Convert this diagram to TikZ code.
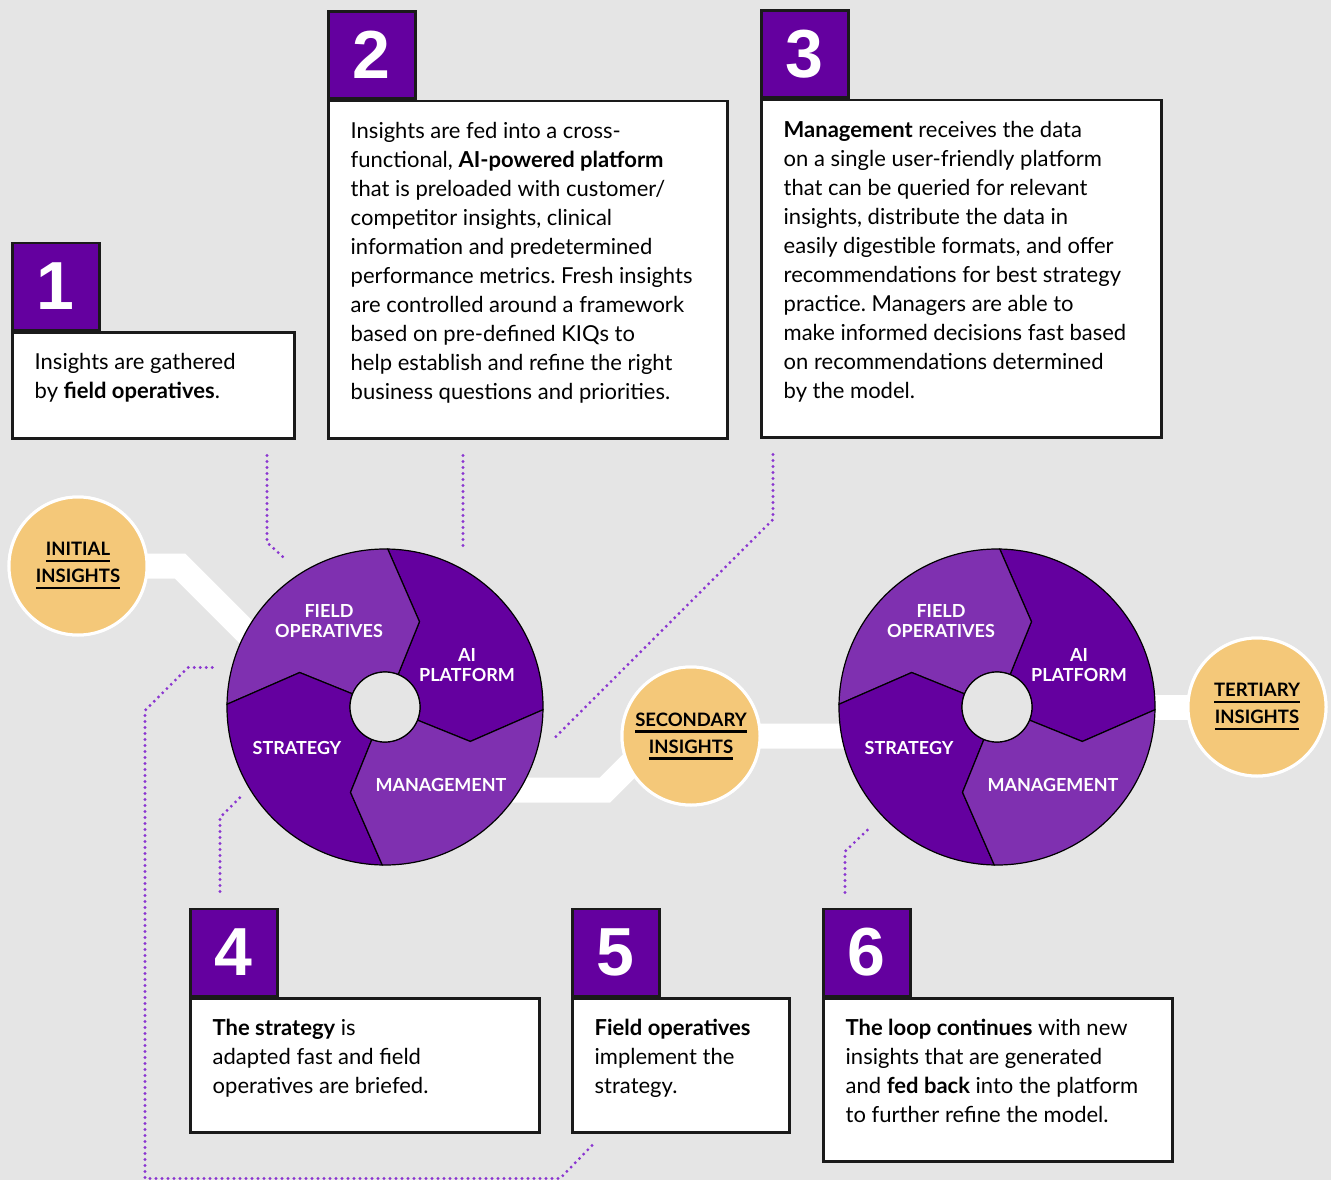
\documentclass[tikz,border=0pt]{standalone}
\usepackage{fontspec}
\setmainfont{Lato}
\newfontfamily\numfont{Liberation Sans}
\usetikzlibrary{calc}
\frenchspacing
\definecolor{bggray}{HTML}{E5E5E5}
\definecolor{darkpurple}{HTML}{64009F}
\definecolor{lightpurple}{HTML}{7F30B0}
\definecolor{gold}{HTML}{F4C879}
\definecolor{dotpurple}{HTML}{8A35D0}
\definecolor{boxline}{HTML}{1A1A1A}
\newcommand\ulword[1]{\setbox0\hbox{#1}\rlap{\rule[-6.5pt]{\wd0}{2.6pt}}\box0}
\tikzset{
  box/.style= {draw=boxline, fill=white, line width=2.5, anchor=north west, inner sep=0},
  tab/.style= {draw=boxline, fill=darkpurple, line width=2.5, anchor=south west,
               minimum width=87, minimum height=87, inner sep=0, text=white,
               font=\numfont\bfseries\fontsize{68}{68}\selectfont},
  txt/.style= {anchor=north west, align=left, inner sep=0, font=\fontsize{22}{29}\selectfont},
  insight/.style= {circle, fill=gold, draw=white, line width=3, minimum size=138,
                   inner sep=0, align=center, font=\bfseries\fontsize{18.5}{27}\selectfont},
  wlabel/.style= {text=white, align=center, inner sep=0, font=\bfseries\fontsize{18}{20}\selectfont},
  band/.style= {draw=white, line width=25, line join=miter},
  dots/.style= {draw=dotpurple, line width=3.2, line cap=round, dash pattern=on 0pt off 6pt},
  wheel/.pic= {
    \begin{scope}[yscale=-1]
      \foreach \s/\c in {-1/darkpurple, 89/lightpurple, 179/darkpurple, 269/lightpurple}
        \filldraw[fill=\c, draw=black, line width=1.2]
          (\s:158) arc[start angle=\s, delta angle=90, radius=158]
          -- (\s+69:92) -- (\s+69:35)
          arc[start angle=\s+69, delta angle=-90, radius=35]
          -- (\s-21:92) -- cycle;
      \filldraw[fill=bggray, draw=black, line width=1.2] (0,0) circle[radius=35];
    \end{scope}
    \node[wlabel] (-fo) at (-56,-86) {FIELD\\OPERATIVES};
    \node[wlabel] (-ai) at (82,-42) {AI\\PLATFORM};
    \node[wlabel] (-st) at (-88,41) {STRATEGY};
    \node[wlabel] (-mg) at (56,78) {MANAGEMENT};
  },
}

\begin{document}
\begin{tikzpicture}[x=1pt, y=-1pt]
  \fill[bggray] (0,0) rectangle (1331,1180);
  \useasboundingbox (0,0) rectangle (1331,1180);

  \coordinate (hub1) at (385,707);
  \coordinate (hub2) at (997,707);
  \node[insight] (ini) at (78,566) {\ulword{INITIAL}\\\ulword{INSIGHTS}};
  \node[insight] (sec) at (691,736) {\ulword{SECONDARY}\\\ulword{INSIGHTS}};
  \node[insight] (ter) at (1257,707) {\ulword{TERTIARY}\\\ulword{INSIGHTS}};

  % white tracks behind the wheels
  \draw[band] (ini.center) -- (180,566) -- (270,656) -- (hub1);
  \draw[band] (hub1) -- (400,790) -- (605,790) -- (650,745) -- (sec.center);
  \draw[band] (sec.center) -- (900,736) -- (hub2);
  \draw[band] (hub2) -- (ter.center);

  % boxes
  \node[box, minimum width=282, minimum height=106] (b1) at (11,331) {};
  \node[box, minimum width=399, minimum height=337] (b2) at (327,100) {};
  \node[box, minimum width=400, minimum height=337] (b3) at (760,99) {};
  \node[box, minimum width=349, minimum height=134] (b4) at (189,997) {};
  \node[box, minimum width=217, minimum height=134] (b5) at (571,997) {};
  \node[box, minimum width=349, minimum height=163] (b6) at (822,997) {};
  \foreach \i in {1,...,6}
    \node[tab] (t\i) at (b\i.north west) {\i};

  % dotted leaders
  \draw[dots] ([shift={(256,16)}]b1.south west) -- ++(0,87) -- ++(20,18);
  \draw[dots] ([shift={(136,16)}]b2.south west) -- ++(0,95);
  \draw[dots] ([shift={(13,16)}]b3.south west) -- ++(0,65) -- ++(-220,220);
  \draw[dots] ([shift={(31,-16)}]t4.north west) -- ++(0,-74) -- ++(20,-20);
  \draw[dots] ([shift={(21,12)}]b5.south west) -- ++(-32,33) -- ++(-415,0)
    -- ++(0,-468) -- ++(43,-43) -- ++(30,0);
  \draw[dots] ([shift={(23,-15)}]t6.north west) -- ++(0,-41) -- ++(25,-24);

  % wheels
  \pic (wheel1) at (hub1) {wheel};
  \pic (wheel2) at (hub2) {wheel};

  % insight circles on top
  \node[insight] at (ini) {\ulword{INITIAL}\\\ulword{INSIGHTS}};
  \node[insight] at (sec) {\ulword{SECONDARY}\\\ulword{INSIGHTS}};
  \node[insight] at (ter) {\ulword{TERTIARY}\\\ulword{INSIGHTS}};

  % texts
  \node[txt] (x1) at ($(b1.north west)+(23.5,22)$) {Insights are gathered\\
    by \textbf{field operatives}.};
  \node[txt] (x2) at ($(b2.north west)+(23.5,22)$) {Insights are fed into a cross-\\
    functional, \textbf{AI-powered platform}\\
    that is preloaded with customer/\\
    competitor insights, clinical\\
    information and predetermined\\
    performance metrics. Fresh insights\\
    are controlled around a framework\\
    based on pre-defined KIQs to\\
    help establish and refine the right\\
    business questions and priorities.};
  \node[txt] (x3) at ($(b3.north west)+(23.5,22)$) {\textbf{Management} receives the data\\
    on a single user-friendly platform\\
    that can be queried for relevant\\
    insights, distribute the data in\\
    easily digestible formats, and offer\\
    recommendations for best strategy\\
    practice. Managers are able to\\
    make informed decisions fast based\\
    on recommendations determined\\
    by the model.};
  \node[txt] (x4) at ($(b4.north west)+(23.5,22)$) {\textbf{The strategy} is\\
    adapted fast and field\\
    operatives are briefed.};
  \node[txt] (x5) at ($(b5.north west)+(23.5,22)$) {\textbf{Field operatives}\\
    implement the\\
    strategy.};
  \node[txt] (x6) at ($(b6.north west)+(23.5,22)$) {\textbf{The loop continues} with new\\
    insights that are generated\\
    and \textbf{fed back} into the platform\\
    to further refine the model.};
\end{tikzpicture}
\end{document}
